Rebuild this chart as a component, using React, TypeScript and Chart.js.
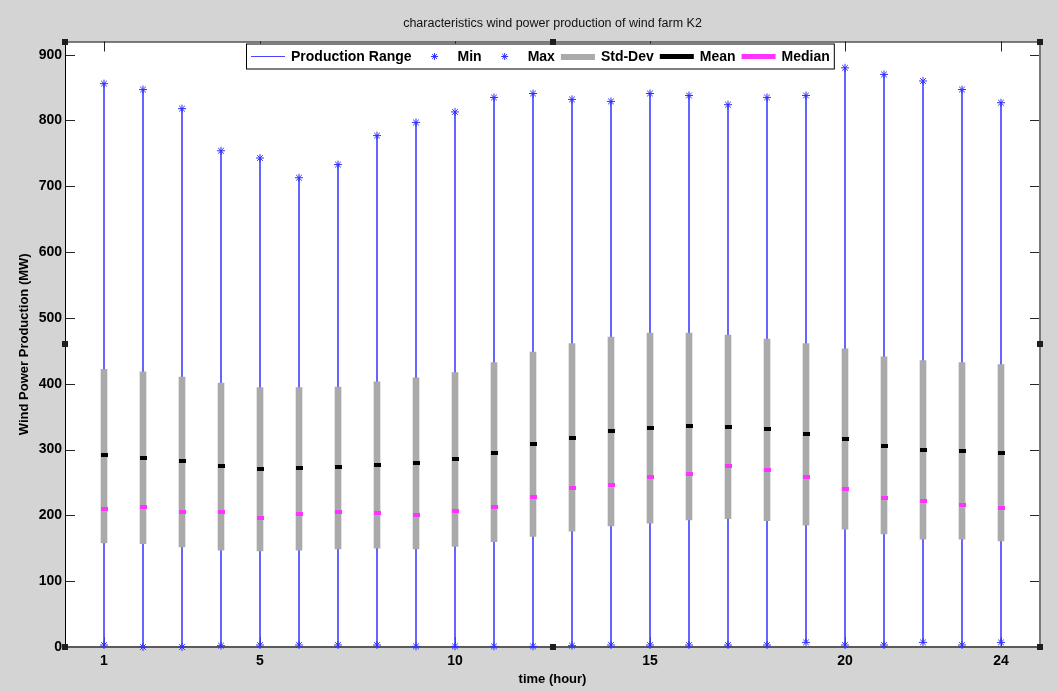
import React, { useEffect, useRef } from 'react';
import { Chart, registerables } from 'chart.js';

Chart.register(...registerables);

// ---- data ----
const hours = [1, 2, 3, 4, 5, 6, 7, 8, 9, 10, 11, 12, 13, 14, 15, 16, 17, 18, 19, 20, 21, 22, 23, 24];
const minValues = [3, 0, 0, 2, 3, 3, 3, 3, 1, 1, 1, 1, 2, 3, 3, 3, 3, 3, 7, 3, 3, 7, 3, 7];
const maxValues = [856, 847, 818, 754, 743, 713, 733, 777, 797, 813, 835, 841, 832, 829, 841, 838, 824, 835, 838, 880, 870, 860, 847, 827];
const stdLow = [158, 157, 152, 147, 146, 147, 149, 150, 149, 153, 160, 168, 176, 184, 188, 193, 195, 192, 185, 179, 172, 164, 164, 161];
const stdHigh = [422, 418, 410, 401, 394, 394, 395, 403, 409, 417, 432, 448, 461, 471, 477, 477, 474, 468, 461, 453, 441, 435, 432, 429];
const meanValues = [292, 287, 283, 275, 270, 272, 273, 276, 279, 285, 295, 308, 318, 328, 333, 336, 334, 331, 324, 316, 306, 300, 298, 295];
const medianValues = [210, 213, 205, 205, 196, 202, 205, 204, 200, 206, 213, 228, 242, 246, 258, 263, 275, 269, 258, 240, 227, 222, 215, 211];

const xTickValues = [1, 5, 10, 15, 20, 24];
const yTickValues = [0, 100, 200, 300, 400, 500, 600, 700, 800, 900];

const titleText = 'characteristics wind power production of wind farm K2';
const xTitle = 'time (hour)';
const yTitle = 'Wind Power Production (MW)';

const RANGE_COLOR = '#4646ff';
const STAR_COLOR = '#2f2fff';
const STD_COLOR = '#aaaaaa';
const MEAN_COLOR = '#000000';
const MEDIAN_COLOR = '#ff33ff';
const FIG_BG = '#d4d4d4';

function makeMarker(color: string) {
  const cv = document.createElement('canvas');
  cv.width = 7;
  cv.height = 4;
  const c = cv.getContext('2d')!;
  c.fillStyle = color;
  c.fillRect(0, 0, 7, 4);
  return cv;
}

const legendStyles: Record<string, any> = {
  'Production Range': { kind: 'line', color: RANGE_COLOR, width: 1 },
  Min: { kind: 'star', color: STAR_COLOR },
  Max: { kind: 'star', color: STAR_COLOR },
  'Std-Dev': { kind: 'line', color: STD_COLOR, width: 6 },
  Mean: { kind: 'line', color: MEAN_COLOR, width: 5 },
  Median: { kind: 'line', color: MEDIAN_COLOR, width: 5 },
};

function drawStar(ctx: CanvasRenderingContext2D, x: number, y: number, r: number, color: string) {
  ctx.save();
  ctx.strokeStyle = color;
  ctx.lineWidth = 1;
  ctx.beginPath();
  ctx.moveTo(x - r, y); ctx.lineTo(x + r, y);
  ctx.moveTo(x, y - r); ctx.lineTo(x, y + r);
  const d = r * 0.7;
  ctx.moveTo(x - d, y - d); ctx.lineTo(x + d, y + d);
  ctx.moveTo(x - d, y + d); ctx.lineTo(x + d, y - d);
  ctx.stroke();
  ctx.restore();
}

const matlabPlugin = {
  id: 'matlabLook',
  beforeDraw(chart: any) {
    const { ctx, chartArea: a, width, height } = chart;
    ctx.save();
    ctx.fillStyle = FIG_BG;
    ctx.fillRect(0, 0, width, height);
    ctx.fillStyle = '#ffffff';
    ctx.fillRect(a.left, a.top, a.right - a.left, a.bottom - a.top);
    ctx.restore();
  },
  beforeDatasetsDraw(chart: any) {
    const { ctx, chartArea: a, scales } = chart;
    ctx.save();
    ctx.strokeStyle = '#262626';
    ctx.lineWidth = 1;
    ctx.beginPath();
    scales.y.ticks.forEach((t: any) => {
      const py = Math.round(scales.y.getPixelForValue(t.value)) + 0.5;
      ctx.moveTo(a.left, py); ctx.lineTo(a.left + 10, py);
      ctx.moveTo(a.right - 10, py); ctx.lineTo(a.right, py);
    });
    scales.x.ticks.forEach((t: any) => {
      const px = Math.round(scales.x.getPixelForValue(t.value)) + 0.5;
      ctx.moveTo(px, a.top); ctx.lineTo(px, a.top + 10);
      ctx.moveTo(px, a.bottom - 10); ctx.lineTo(px, a.bottom);
    });
    ctx.stroke();
    // frame
    ctx.strokeStyle = '#000000';
    ctx.beginPath();
    ctx.moveTo(a.left + 0.5, a.bottom); ctx.lineTo(a.left + 0.5, a.top + 0.5); ctx.lineTo(a.right, a.top + 0.5);
    ctx.stroke();
    ctx.strokeStyle = '#7a7a7a';
    ctx.lineWidth = 2;
    ctx.beginPath();
    ctx.moveTo(a.right, a.top); ctx.lineTo(a.right, a.bottom);
    ctx.stroke();
    ctx.strokeStyle = '#5a5a5a';
    ctx.beginPath();
    ctx.moveTo(a.left, a.bottom); ctx.lineTo(a.right, a.bottom);
    ctx.stroke();
    ctx.restore();
  },
  afterDraw(chart: any) {
    const { ctx, chartArea: a } = chart;
    ctx.save();
    // legend box
    ctx.font = 'bold 14px "Liberation Sans", Arial, sans-serif';
    const labels: string[] = chart.data.datasets.map((d: any) => d.label);
    const order = ['Production Range', 'Min', 'Max', 'Std-Dev', 'Mean', 'Median'].filter((l) => labels.includes(l));
    const sample = 34, gapS = 6, gapItem = 6, pad = 5;
    let total = pad;
    order.forEach((l, i) => {
      total += sample + gapS + ctx.measureText(l).width + (i < order.length - 1 ? gapItem : 0);
    });
    total += pad;
    const bx = a.left + 181, by = a.top + 2, bh = 26;
    ctx.fillStyle = '#ffffff';
    ctx.fillRect(bx, by, total, bh);
    ctx.strokeStyle = '#000000';
    ctx.lineWidth = 1;
    ctx.strokeRect(bx + 0.5, by + 0.5, total - 1, bh - 1);
    const cy = by + bh / 2;
    let x = bx + pad;
    ctx.textBaseline = 'middle';
    ctx.textAlign = 'left';
    order.forEach((l) => {
      const st = legendStyles[l];
      if (st.kind === 'line') {
        ctx.fillStyle = st.color;
        ctx.fillRect(x, Math.round(cy - st.width / 2), sample, st.width);
      } else {
        drawStar(ctx, x + sample / 2, cy, 3.5, st.color);
      }
      x += sample + gapS;
      ctx.fillStyle = '#000000';
      ctx.fillText(l, x, cy + 1);
      x += ctx.measureText(l).width + gapItem;
    });
    // selection handles
    ctx.fillStyle = '#1e1e1e';
    const mx = (a.left + a.right) / 2, my = (a.top + a.bottom) / 2;
    [[a.left, a.top], [a.right, a.top], [a.left, a.bottom], [a.right, a.bottom], [mx, a.top], [mx, a.bottom], [a.left, my], [a.right, my]].forEach(([hx, hy]) => {
      ctx.fillRect(Math.round(hx - 3), Math.round(hy - 3), 6, 6);
    });
    ctx.restore();
  },
};

export default function App() {
  const ref = useRef<HTMLCanvasElement>(null);
  useEffect(() => {
    document.body.style.margin = '0';
    const meanImg = makeMarker(MEAN_COLOR);
    const medianImg = makeMarker(MEDIAN_COLOR);
    const chart = new Chart(ref.current!, {
      type: 'bar',
      data: {
        datasets: [
          {
            type: 'bar',
            label: 'Production Range',
            data: hours.map((h, i) => ({ x: h, y: [minValues[i], maxValues[i]] })) as any,
            backgroundColor: RANGE_COLOR,
            borderWidth: 0,
            barThickness: 1,
            grouped: false,
            order: 6,
          } as any,
          {
            type: 'line',
            label: 'Min',
            data: hours.map((h, i) => ({ x: h, y: minValues[i] })),
            showLine: false,
            pointStyle: 'star',
            pointRadius: 4,
            borderColor: STAR_COLOR,
            backgroundColor: STAR_COLOR,
            pointBorderWidth: 1,
            clip: false,
            order: 2,
          } as any,
          {
            type: 'line',
            label: 'Max',
            data: hours.map((h, i) => ({ x: h, y: maxValues[i] })),
            showLine: false,
            pointStyle: 'star',
            pointRadius: 4,
            borderColor: STAR_COLOR,
            backgroundColor: STAR_COLOR,
            pointBorderWidth: 1,
            clip: false,
            order: 1,
          } as any,
          {
            type: 'bar',
            label: 'Std-Dev',
            data: hours.map((h, i) => ({ x: h, y: [stdLow[i], stdHigh[i]] })) as any,
            backgroundColor: STD_COLOR,
            borderWidth: 0,
            barThickness: 6,
            grouped: false,
            order: 5,
          } as any,
          {
            type: 'line',
            label: 'Mean',
            data: hours.map((h, i) => ({ x: h, y: meanValues[i] })),
            showLine: false,
            pointStyle: meanImg,
            pointRadius: 3,
            order: 4,
          } as any,
          {
            type: 'line',
            label: 'Median',
            data: hours.map((h, i) => ({ x: h, y: medianValues[i] })),
            showLine: false,
            pointStyle: medianImg,
            pointRadius: 3,
            order: 3,
          } as any,
        ],
      },
      options: {
        animation: false,
        responsive: false,
        maintainAspectRatio: false,
        events: [],
        layout: { padding: { left: 0, right: 18, top: 0, bottom: 0 } },
        plugins: {
          legend: { display: false },
          tooltip: { enabled: false },
          title: {
            display: true,
            text: titleText,
            fullSize: false,
            color: '#111111',
            font: { family: '"Liberation Sans", Arial, sans-serif', size: 12.5, weight: 'normal' },
            padding: { top: 16.5, bottom: 10 },
          },
        },
        scales: {
          x: {
            type: 'linear',
            min: 0,
            max: 25,
            offset: false,
            grid: { display: false, drawTicks: false },
            border: { display: false },
            afterBuildTicks: (s: any) => { s.ticks = xTickValues.map((v) => ({ value: v })); },
            afterFit: (s: any) => { s.height = 45; },
            ticks: {
              autoSkip: false,
              maxRotation: 0,
              padding: 6,
              color: '#000000',
              font: { family: '"Liberation Sans", Arial, sans-serif', size: 14, weight: 'bold' },
            },
            title: {
              display: true,
              text: xTitle,
              color: '#000000',
              font: { family: '"Liberation Sans", Arial, sans-serif', size: 13, weight: 'bold' },
              padding: { top: 0, bottom: 5 },
            },
          },
          y: {
            type: 'linear',
            min: 0,
            max: 920,
            grid: { display: false, drawTicks: false },
            border: { display: false },
            afterBuildTicks: (s: any) => { s.ticks = yTickValues.map((v) => ({ value: v })); },
            afterFit: (s: any) => { s.width = 65; },
            ticks: {
              autoSkip: false,
              padding: 3,
              color: '#000000',
              font: { family: '"Liberation Sans", Arial, sans-serif', size: 14, weight: 'bold' },
            },
            title: {
              display: true,
              text: yTitle,
              color: '#000000',
              font: { family: '"Liberation Sans", Arial, sans-serif', size: 13, weight: 'bold' },
              padding: { top: 17, bottom: 0 },
            },
          },
        },
      },
      plugins: [matlabPlugin],
    } as any);
    return () => chart.destroy();
  }, []);
  return (
    <div style={{ width: 1058, height: 692, background: FIG_BG }}>
      <canvas ref={ref} width={1058} height={692} style={{ display: 'block' }} />
    </div>
  );
}
